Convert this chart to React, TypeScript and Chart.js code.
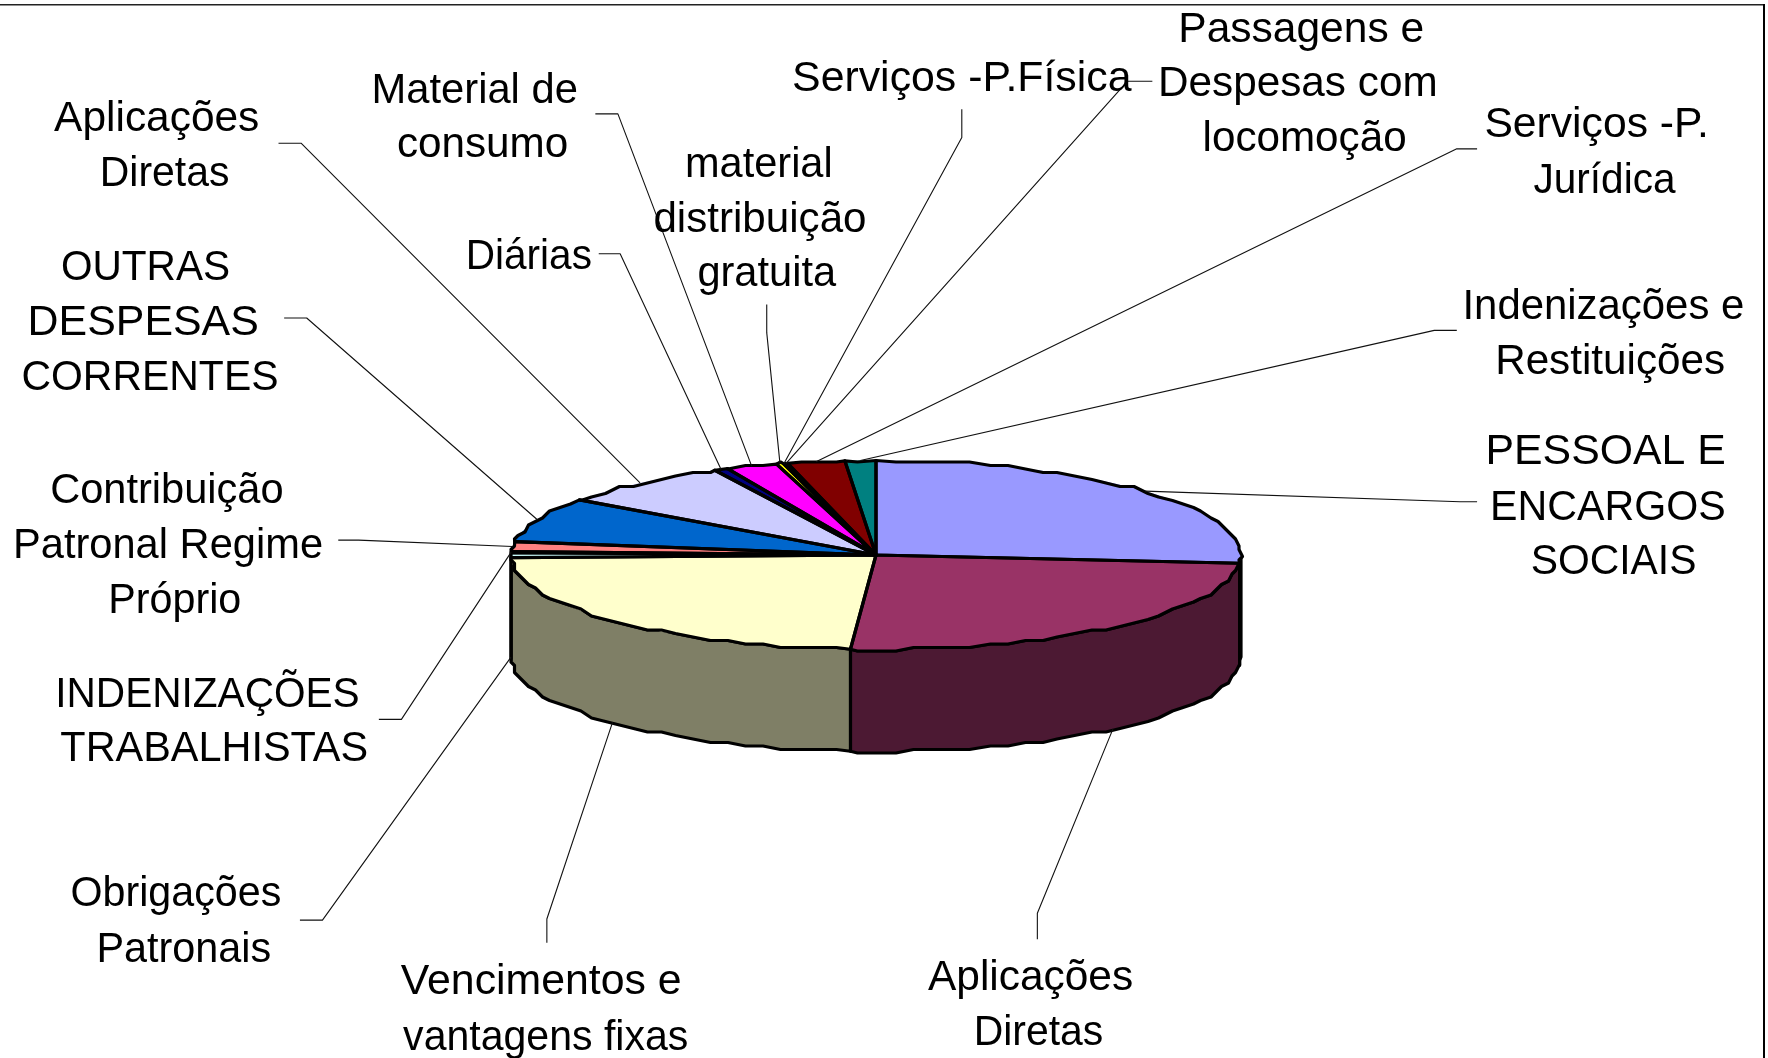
import React, { useEffect, useRef } from "react";
import { Chart, registerables } from "chart.js";

Chart.register(...registerables);

// ---- data (share of total, %) ----
const categories = [
  "PESSOAL E ENCARGOS SOCIAIS",
  "Aplicações Diretas",
  "Vencimentos e vantagens fixas",
  "Obrigações Patronais",
  "INDENIZAÇÕES TRABALHISTAS",
  "Contribuição Patronal Regime Próprio",
  "OUTRAS DESPESAS CORRENTES",
  "Aplicações Diretas",
  "Diárias",
  "Material de consumo",
  "material distribuição gratuita",
  "Serviços -P.Física",
  "Passagens e Despesas com locomoção",
  "Serviços -P. Jurídica",
  "Indenizações e Restituições",
];
const shares = [26.39, 24.72, 23.44, 0.83, 0.19, 1.69, 7.64, 7.81, 0.61, 2.28, 0.31, 0.05, 0.14, 2.53, 1.36];
const sliceColors = [
  "#9999FF", "#993366", "#FFFFCC", "#CCFFFF", "#660066", "#FF8080", "#0066CC", "#CCCCFF",
  "#000080", "#FF00FF", "#FFFF00", "#00FFFF", "#800080", "#800000", "#008080",
];
const labelLines = [
  ["PESSOAL E", "ENCARGOS", "SOCIAIS"],
  ["Aplicações", "Diretas"],
  ["Vencimentos e", "vantagens fixas"],
  ["Obrigações", "Patronais"],
  ["INDENIZAÇÕES", "TRABALHISTAS"],
  ["Contribuição", "Patronal Regime", "Próprio"],
  ["OUTRAS", "DESPESAS", "CORRENTES"],
  ["Aplicações", "Diretas"],
  ["Diárias"],
  ["Material de", "consumo"],
  ["material", "distribuição", "gratuita"],
  ["Serviços -P.Física"],
  ["Passagens e", "Despesas com", "locomoção"],
  ["Serviços -P.", "Jurídica"],
  ["Indenizações e", "Restituições"],
];

// ---- layout (in the 1568-wide preview's units, converted by UNIT) ----
const UNIT = 1768 / 1568;
const labelCenters = [
  [[1424, 399], [1426, 448], [1431, 496]],
  [[914, 865], [921, 914]],
  [[480, 869], [484, 918]],
  [[156, 791], [163, 840]],
  [[184, 614], [190, 662]],
  [[148, 433], [149, 482], [155, 531]],
  [[129, 235], [127, 284], [133, 333]],
  [[139, 103], [146, 152]],
  [[469, 226]],
  [[421, 78], [428, 126]],
  [[673, 144], [674, 193], [680, 241]],
  [[853, 68]],
  [[1154, 24], [1151, 72], [1157, 121]],
  [[1416, 109], [1423, 158]],
  [[1422, 270], [1428, 319]],
];
const labelWidths = [
  [213, 209, 147],
  [182, 115],
  [249, 253],
  [187, 155],
  [270, 273],
  [207, 275, 118],
  [150, 205, 228],
  [182, 115],
  [112],
  [183, 152],
  [131, 189, 123],
  [301],
  [218, 248, 181],
  [199, 126],
  [250, 204],
];
const leaderTails = [
  [[1295, 445], [1310, 445]],
  [[920, 810], [920, 833]],
  [[485, 815], [485, 836]],
  [[286, 816], [266, 816]],
  [[356, 638], [336, 638]],
  [[318, 479], [300, 479]],
  [[272, 282], [252, 282]],
  [[267, 127], [247, 127]],
  [[550, 225], [531, 225]],
  [[548, 101], [528, 101]],
  [[680, 295], [680, 270]],
  [[853, 122], [853, 97]],
  [[1000, 72], [1022, 72]],
  [[1292, 132], [1310, 132]],
  [[1272, 293], [1292, 293]],
];

const CX = 876;
const CY = 555;
const RX = 365;
const RY = 94.5;
const DEPTH = 102;
const STEP = (3 * Math.PI) / 180;
const GRID = 3.5;
const OUTLINE = 3.2;

const snap = (v: number) => Math.round(v / GRID) * GRID;
const halve = (hex: string) => {
  const n = parseInt(hex.slice(1), 16);
  return `rgb(${(n >> 16) >> 1},${((n >> 8) & 255) >> 1},${(n & 255) >> 1})`;
};

function rim(a0: number, a1: number) {
  const out: number[][] = [];
  out.push([CX + RX * Math.cos(a0), CY + RY * Math.sin(a0)]);
  let a = Math.ceil((a0 + 1e-6) / STEP) * STEP;
  for (; a < a1 - 1e-6; a += STEP) out.push([snap(CX + RX * Math.cos(a)), snap(CY + RY * Math.sin(a))]);
  out.push([CX + RX * Math.cos(a1), CY + RY * Math.sin(a1)]);
  return out;
}

const piePlugin = {
  id: "flatPie3d",
  beforeDatasetsDraw(chart: any) {
    const ctx = chart.ctx;
    const arcs = chart.getDatasetMeta(0).data;
    ctx.save();
    ctx.lineJoin = "round";
    ctx.lineWidth = OUTLINE;
    ctx.strokeStyle = "#000";
    // side wall of the slices that face the viewer
    arcs.forEach((arc: any, i: number) => {
      const a0 = Math.max(arc.startAngle, 0);
      const a1 = Math.min(arc.endAngle, Math.PI);
      if (a1 <= a0) return;
      const pts = rim(a0, a1);
      ctx.beginPath();
      pts.forEach(([x, y], k) => (k ? ctx.lineTo(x, y) : ctx.moveTo(x, y)));
      [...pts].reverse().forEach(([x, y]) => ctx.lineTo(x, y + DEPTH));
      ctx.closePath();
      ctx.fillStyle = halve(sliceColors[i]);
      ctx.fill();
      ctx.stroke();
    });
    // faceted rim underlay so the library's arcs meet the outline
    arcs.forEach((arc: any, i: number) => {
      ctx.beginPath();
      ctx.moveTo(CX, CY);
      rim(arc.startAngle, arc.endAngle).forEach(([x, y]) => ctx.lineTo(x, y));
      ctx.closePath();
      ctx.fillStyle = sliceColors[i];
      ctx.fill();
    });
    ctx.restore();
    // the library's arcs are squashed into the ellipse of the top face
    ctx.save();
    ctx.translate(CX, CY);
    ctx.scale(1, RY / RX);
    ctx.translate(-CX, -CY);
  },
  afterDatasetsDraw(chart: any) {
    const ctx = chart.ctx;
    ctx.restore();
    const arcs = chart.getDatasetMeta(0).data;
    ctx.save();
    ctx.lineJoin = "round";
    ctx.lineWidth = OUTLINE;
    ctx.strokeStyle = "#000";
    arcs.forEach((arc: any) => {
      ctx.beginPath();
      ctx.moveTo(CX, CY);
      rim(arc.startAngle, arc.endAngle).forEach(([x, y]) => ctx.lineTo(x, y));
      ctx.closePath();
      ctx.stroke();
    });
    // leader lines
    ctx.lineWidth = 1.1;
    ctx.strokeStyle = "#111";
    arcs.forEach((arc: any, i: number) => {
      const mid = (arc.startAngle + arc.endAngle) / 2;
      const front = mid >= 0 && mid <= Math.PI;
      const x = CX + RX * Math.cos(mid);
      const y = CY + RY * Math.sin(mid) + (front ? DEPTH : 0);
      const [[ex, ey], [tx, ty]] = leaderTails[i];
      ctx.beginPath();
      ctx.moveTo(x, y);
      ctx.lineTo(ex * UNIT, ey * UNIT);
      ctx.lineTo(tx * UNIT, ty * UNIT);
      ctx.stroke();
    });
    // labels
    ctx.fillStyle = "#000";
    ctx.font = '42px "Liberation Sans", Arial, sans-serif';
    ctx.textAlign = "center";
    ctx.textBaseline = "middle";
    labelLines.forEach((lines, i) => {
      lines.forEach((line, k) => {
        const [x, y] = labelCenters[i][k];
        const fit = (labelWidths[i][k] * UNIT) / ctx.measureText(line).width;
        ctx.save();
        ctx.translate(x * UNIT, y * UNIT + 3);
        ctx.scale(fit, 1);
        ctx.fillText(line, 0, 0);
        ctx.restore();
      });
    });
    // outer frame
    ctx.fillStyle = "#222";
    ctx.fillRect(0, 4, 1765, 1.5);
    ctx.fillStyle = "#000";
    ctx.fillRect(1763, 4, 2, 1054);
    ctx.restore();
  },
};

export default function App() {
  const ref = useRef<HTMLCanvasElement | null>(null);
  useEffect(() => {
    const chart = new Chart(ref.current as HTMLCanvasElement, {
      type: "pie",
      data: {
        labels: categories,
        datasets: [
          {
            data: shares,
            backgroundColor: sliceColors,
            borderWidth: 0,
            clip: false,
          } as any,
        ],
      },
      options: {
        animation: false,
        responsive: false,
        layout: {
          padding: { left: CX - RX, right: 1768 - CX - RX, top: CY - RX, bottom: 1058 - CY - RX },
        },
        plugins: { legend: { display: false }, tooltip: { enabled: false } },
      },
      plugins: [piePlugin],
    } as any);
    return () => chart.destroy();
  }, []);
  return (
    <div style={{ position: "fixed", left: 0, top: 0, width: 1768, height: 1058, background: "#fff" }}>
      <canvas ref={ref} width={1768} height={1058} style={{ display: "block" }} />
    </div>
  );
}
